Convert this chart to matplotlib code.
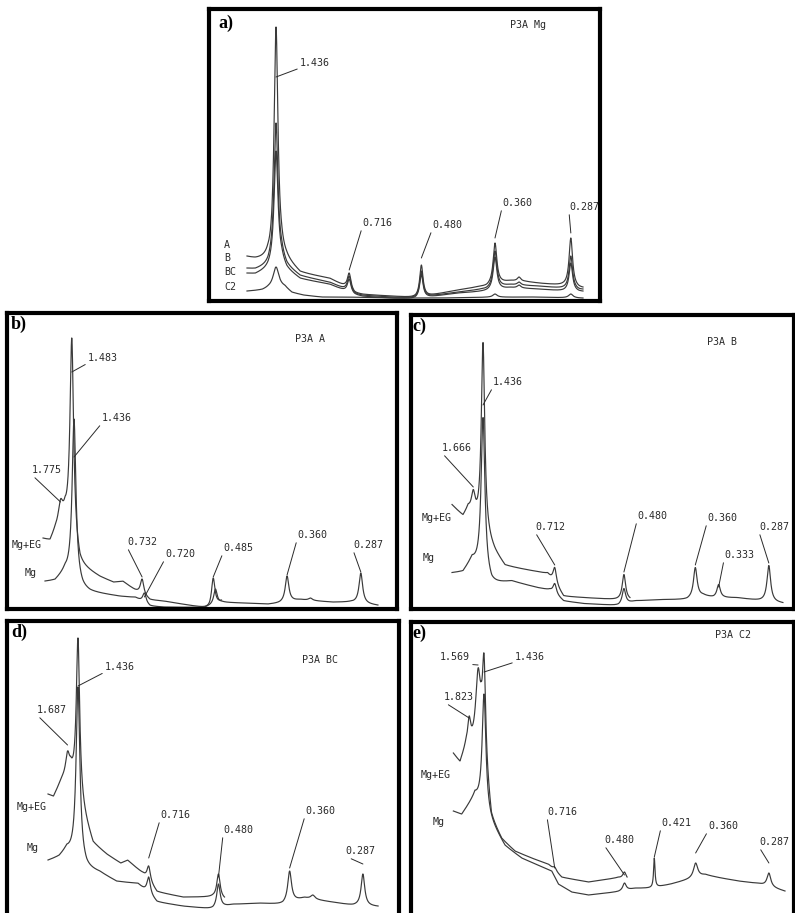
import numpy as np
import matplotlib.pyplot as plt

CU_KA = 0.15406  # X-ray wavelength (nm), Cu K-alpha

INK = "#2a2a2a"
TRACE = "#3a3a3a"
MONO = "DejaVu Sans Mono"
W, H = 795, 913

# Each trace: intensity readings at a few 2-theta positions away from the
# reflections, plus the apex height of every labelled reflection (by d, nm).

# ---------------------------------------------------------------- a) P3A Mg
a_scan = (3.69, 32.17)
a_peak_d = [1.436, 0.716, 0.480, 0.360, 0.333, 0.287]
a_peak_fwhm = [0.40, 0.36, 0.34, 0.38, 0.36, 0.36]
a_read_2t = [3.69, 4.4, 5.47, 5.79, 6.63, 7.06, 8.2, 10.7, 12.0, 12.8, 13.5, 16.0, 18.0, 19.0,
             21.5, 23.4, 24.0, 25.3, 26.0, 27.3, 28.5, 30.5, 31.8, 32.17]

a_A_read = [45, 44, 58, 90, 77, 50, 30, 23, 18, 10, 7, 5, 7, 8, 11, 15, 17, 22, 21, 20, 18, 19, 16, 14]
a_A_top = [274, 28, 36, 58, 24, 63]

a_B_read = [33, 33, 45, 70, 62, 40, 26, 19, 15, 9, 6, 4, 6, 7, 9, 12, 14, 18, 17, 16, 15, 15, 13, 12]
a_B_top = [178, 25, 30, 50, 19, 45]

a_BC_read = [28, 28, 40, 60, 55, 36, 23, 17, 13, 8, 5, 3, 5, 6, 8, 10, 12, 15, 14, 13, 12, 12, 11, 10]
a_BC_top = [150, 22, 27, 44, 16, 38]

a_C2_read_2t = [3.69, 5.0, 5.5, 6.9, 7.5, 8.5, 10.0, 12.0, 16.0, 20.0, 24.0, 28.0, 32.17]
a_C2_read = [10, 12, 16, 16, 9, 6, 4, 4, 3, 3, 4, 4, 3]
a_C2_peak_d = [1.436, 0.360, 0.287]
a_C2_top = [34, 7, 7]
a_C2_fwhm = [0.6, 0.45, 0.45]

# ---------------------------------------------------------------- b) P3A A
b_EG_scan = (3.45, 19.0)
b_EG_read_2t = [3.45, 4.06, 4.5, 5.37, 6.67, 7.54, 8.41, 9.6, 10.4, 11.46, 12.77, 14.0, 17.98, 19.0]
b_EG_read = [71, 70, 84, 113, 56, 40, 33, 27, 28, 20, 10, 8, 8, 9]
b_EG_peak_d = [1.775, 1.483, 0.732, 0.485]
b_EG_top = [110, 271, 30, 31]
b_EG_fwhm = [0.45, 0.38, 0.36, 0.36]

b_Mg_scan = (3.62, 32.63)
b_Mg_read_2t = [3.62, 4.5, 5.37, 6.9, 7.54, 10.16, 11.5, 12.77, 14.0, 17.5, 19.04, 21.0, 23.0,
                24.09, 25.84, 28.71, 30.19, 32.63]
b_Mg_read = [28, 30, 46, 30, 20, 13, 12, 4, 2, 2, 8, 6, 5, 8, 10, 7, 8, 4]
b_Mg_peak_d = [1.436, 0.720, 0.480, 0.360, 0.333, 0.287]
b_Mg_top = [190, 16, 20, 33, 11, 36]
b_Mg_fwhm = [0.40, 0.36, 0.36, 0.38, 0.40, 0.38]

# ---------------------------------------------------------------- c) P3A B
c_EG_scan = (3.44, 19.0)
c_EG_read_2t = [3.44, 4.40, 4.85, 7.2, 8.07, 10.43, 11.8, 13.2, 15.0, 18.0, 19.0]
c_EG_read = [104, 94, 105, 61, 44, 38, 36, 13, 11, 12, 11]
c_EG_peak_d = [1.666, 1.436, 0.712, 0.480]
c_EG_top = [119, 266, 41, 34]
c_EG_fwhm = [0.40, 0.36, 0.36, 0.36]

c_Mg_scan = (3.44, 32.37)
c_Mg_read_2t = [3.44, 4.4, 5.19, 6.91, 8.66, 10.96, 12.0, 13.2, 15.0, 18.0, 19.5, 21.6, 24.0,
                25.4, 26.3, 28.4, 30.4, 32.37]
c_Mg_read = [36, 38, 54, 34, 28, 21, 20, 8, 5, 5, 8, 9, 11, 15, 13, 11, 10, 6]
c_Mg_peak_d = [1.436, 0.712, 0.480, 0.360, 0.333, 0.287]
c_Mg_top = [191, 25, 20, 41, 24, 43]
c_Mg_fwhm = [0.40, 0.36, 0.36, 0.38, 0.36, 0.38]

# ---------------------------------------------------------------- d) P3A BC
d_EG_scan = (3.52, 19.0)
d_EG_read_2t = [3.52, 4.0, 4.7, 5.51, 6.94, 7.47, 8.69, 9.9, 10.5, 11.85, 13.08, 15.36, 17.99, 19.0]
d_EG_read = [123, 121, 140, 161, 99, 76, 63, 54, 57, 45, 26, 20, 23, 20]
d_EG_peak_d = [1.687, 1.436, 0.716, 0.480]
d_EG_top = [166, 279, 51, 43]
d_EG_fwhm = [0.40, 0.36, 0.36, 0.36]

d_Mg_scan = (3.52, 32.47)
d_Mg_read_2t = [3.52, 4.5, 5.16, 6.91, 8.08, 9.54, 11.4, 13.08, 15.36, 18.0, 19.75, 22.0, 24.13,
                26.0, 28.5, 30.27, 32.47]
d_Mg_read = [57, 62, 73, 59, 46, 36, 34, 16, 11, 11, 13, 14, 16, 20, 15, 13, 11]
d_Mg_peak_d = [1.436, 0.716, 0.480, 0.360, 0.333, 0.287]
d_Mg_top = [230, 40, 33, 46, 22, 43]
d_Mg_fwhm = [0.40, 0.36, 0.36, 0.40, 0.45, 0.38]

# ---------------------------------------------------------------- e) P3A C2
e_EG_scan = (3.46, 18.7)
e_EG_read_2t = [3.46, 4.04, 4.55, 5.2, 5.9, 6.8, 7.7, 8.87, 10.33, 11.79, 12.97, 15.30, 17.93, 18.7]
e_EG_read = [164, 156, 178, 194, 236, 105, 79, 66, 59, 53, 40, 35, 40, 40]
e_EG_peak_d = [1.823, 1.569, 1.436, 0.716, 0.480]
e_EG_top = [201, 249, 263, 50, 45]
e_EG_fwhm = [0.32, 0.50, 0.34, 0.36, 0.36]

e_Mg_scan = (3.46, 32.55)
e_Mg_read_2t = [3.46, 4.19, 5.36, 7.99, 9.46, 12.09, 12.67, 13.84, 15.30, 17.93, 19.40, 20.86,
                22.5, 24.07, 25.54, 26.99, 28.5, 30.21, 32.55]
e_Mg_read = [106, 103, 127, 72, 59, 46, 33, 25, 22, 26, 29, 32, 33, 39, 43, 39, 36, 34, 26]
e_Mg_peak_d = [1.436, 0.480, 0.421, 0.360, 0.287]
e_Mg_top = [223, 34, 59, 54, 44]
e_Mg_fwhm = [0.40, 0.36, 0.15, 0.45, 0.40]


def two_theta(d_nm):
    """Bragg angle 2-theta (degrees) for a d-spacing in nm."""
    d = np.asarray(d_nm, dtype=float)
    return 2.0 * np.degrees(np.arcsin(CU_KA / (2.0 * d)))


def xrd_trace(scan, read_2t, read_int, peak_d, peak_top, peak_fwhm):
    """Piecewise-linear background plus Lorentzian reflections.

    The background is chosen so that the trace passes through the intensity
    readings, and the reflection amplitudes so that each apex reaches its top.
    """
    pos = two_theta(peak_d)
    hw = np.asarray(peak_fwhm, dtype=float) / 2.0
    xk = np.asarray(read_2t, dtype=float)
    rk = np.asarray(read_int, dtype=float)
    top = np.asarray(peak_top, dtype=float)

    def shape(x):
        x = np.atleast_1d(np.asarray(x, dtype=float))
        return 1.0 / (1.0 + ((x[:, None] - pos[None, :]) / hw[None, :]) ** 2)

    eye = np.eye(len(xk))
    wp = np.stack([np.interp(pos, xk, eye[k]) for k in range(len(xk))], axis=1)
    lk = shape(xk)
    amp = np.linalg.solve(shape(pos) - wp @ lk, top - wp @ rk)
    amp = np.clip(amp, 0.0, None)
    bg_k = rk - lk @ amp

    inside = pos[(pos > scan[0]) & (pos < scan[1])]
    grid = np.union1d(np.linspace(scan[0], scan[1], 3000), inside)
    return grid, np.interp(grid, xk, bg_k) + shape(grid) @ amp


fig = plt.figure(figsize=(W / 100, H / 100), dpi=100)
fig.patch.set_facecolor("white")


def panel(box, xlim):
    left, top, right, bottom = box
    ax = fig.add_axes([left / W, 1 - bottom / H, (right - left) / W, (bottom - top) / H])
    ax.set_xlim(*xlim)
    ax.set_ylim(0, bottom - top)
    ax.set_xticks([])
    ax.set_yticks([])
    for sp in ax.spines.values():
        sp.set_linewidth(3.0)
        sp.set_color("black")
    return ax


def draw(ax, x, y):
    ax.plot(x, y, color=TRACE, lw=0.85)


def note(text, px, py, size=7.2):
    fig.text(px / W, 1 - py / H, text, ha="left", va="center", fontsize=size,
             family=MONO, color=INK)


def letter(text, px, py):
    fig.text(px / W, 1 - py / H, text, ha="left", va="center", fontsize=13,
             fontweight="bold", family="Liberation Serif", color="black")


def peak_label(ax, text, d, tx, ty, target_py):
    ax.annotate(text, xy=(two_theta(d), H - target_py), xycoords=("data", "figure pixels"),
                xytext=(tx, H - ty), textcoords="figure pixels", ha="left", va="center",
                fontsize=7.2, family=MONO, color=INK,
                arrowprops=dict(arrowstyle="-", lw=0.7, color=INK, shrinkA=0, shrinkB=0,
                                relpos=(0.0, 0.0)))


# ---------------- a)
ax = panel((209, 9, 600, 301), (0.47, 33.61))
for read, top in [(a_A_read, a_A_top), (a_B_read, a_B_top), (a_BC_read, a_BC_top)]:
    draw(ax, *xrd_trace(a_scan, a_read_2t, read, a_peak_d, top, a_peak_fwhm))
draw(ax, *xrd_trace(a_scan, a_C2_read_2t, a_C2_read, a_C2_peak_d, a_C2_top, a_C2_fwhm))
letter("a)", 218, 23)
note("P3A Mg", 510, 25)
for txt, py in [("A", 245), ("B", 258), ("BC", 272), ("C2", 287)]:
    note(txt, 224, py)
for txt, d, tx, ty, tgt in [("1.436", 1.436, 300, 63, 77), ("0.716", 0.716, 362, 223, 270),
                            ("0.480", 0.480, 432, 225, 258), ("0.360", 0.360, 502, 203, 238),
                            ("0.287", 0.287, 569, 207, 233)]:
    peak_label(ax, txt, d, tx, ty, tgt)

# ---------------- b)
ax = panel((7, 313, 397, 609), (0.31, 34.29))
draw(ax, *xrd_trace(b_EG_scan, b_EG_read_2t, b_EG_read, b_EG_peak_d, b_EG_top, b_EG_fwhm))
draw(ax, *xrd_trace(b_Mg_scan, b_Mg_read_2t, b_Mg_read, b_Mg_peak_d, b_Mg_top, b_Mg_fwhm))
letter("b)", 11, 324)
note("P3A A", 295, 339)
note("Mg+EG", 12, 545)
note("Mg", 25, 573)
for txt, d, tx, ty, tgt in [("1.483", 1.483, 88, 358, 372), ("1.436", 1.436, 102, 418, 457),
                            ("1.775", 1.775, 32, 470, 502), ("0.732", 0.732, 127, 542, 577),
                            ("0.720", 0.720, 165, 554, 597), ("0.485", 0.485, 223, 548, 577),
                            ("0.360", 0.360, 297, 535, 575), ("0.287", 0.287, 353, 545, 572)]:
    peak_label(ax, txt, d, tx, ty, tgt)

# ---------------- c)
ax = panel((410.5, 315, 794, 608.5), (-0.19, 33.34))
draw(ax, *xrd_trace(c_EG_scan, c_EG_read_2t, c_EG_read, c_EG_peak_d, c_EG_top, c_EG_fwhm))
draw(ax, *xrd_trace(c_Mg_scan, c_Mg_read_2t, c_Mg_read, c_Mg_peak_d, c_Mg_top, c_Mg_fwhm))
letter("c)", 412, 326)
note("P3A B", 707, 342)
note("Mg+EG", 422, 518)
note("Mg", 423, 558)
for txt, d, tx, ty, tgt in [("1.436", 1.436, 493, 382, 405), ("1.666", 1.666, 442, 448, 487),
                            ("0.712", 0.712, 535, 527, 565), ("0.480", 0.480, 637, 516, 572),
                            ("0.360", 0.360, 707, 518, 565), ("0.333", 0.333, 724, 555, 587),
                            ("0.287", 0.287, 759, 527, 563)]:
    peak_label(ax, txt, d, tx, ty, tgt)

# ---------------- d)
ax = panel((6.5, 621, 398.5, 917), (-0.12, 34.26))
draw(ax, *xrd_trace(d_EG_scan, d_EG_read_2t, d_EG_read, d_EG_peak_d, d_EG_top, d_EG_fwhm))
draw(ax, *xrd_trace(d_Mg_scan, d_Mg_read_2t, d_Mg_read, d_Mg_peak_d, d_Mg_top, d_Mg_fwhm))
letter("d)", 11, 632)
note("P3A BC", 302, 660)
note("Mg+EG", 17, 807)
note("Mg", 27, 848)
for txt, d, tx, ty, tgt in [("1.436", 1.436, 105, 667, 686), ("1.687", 1.687, 37, 710, 745),
                            ("0.716", 0.716, 160, 815, 858), ("0.480", 0.480, 223, 830, 877),
                            ("0.360", 0.360, 305, 811, 868), ("0.287", 0.287, 345, 851, 864)]:
    peak_label(ax, txt, d, tx, ty, tgt)

# ---------------- e)
ax = panel((410.5, 622, 794, 917), (-0.30, 33.34))
draw(ax, *xrd_trace(e_EG_scan, e_EG_read_2t, e_EG_read, e_EG_peak_d, e_EG_top, e_EG_fwhm))
draw(ax, *xrd_trace(e_Mg_scan, e_Mg_read_2t, e_Mg_read, e_Mg_peak_d, e_Mg_top, e_Mg_fwhm))
letter("e)", 412, 633)
note("P3A C2", 715, 635)
note("Mg+EG", 421, 775)
note("Mg", 433, 822)
for txt, d, tx, ty, tgt in [("1.569", 1.569, 440, 657, 665), ("1.436", 1.436, 515, 657, 672),
                            ("1.823", 1.823, 444, 697, 718), ("0.716", 0.716, 547, 812, 868),
                            ("0.480", 0.480, 604, 840, 875), ("0.421", 0.421, 661, 823, 857),
                            ("0.360", 0.360, 708, 826, 853), ("0.287", 0.287, 759, 842, 863)]:
    peak_label(ax, txt, d, tx, ty, tgt)

fig.savefig("out.png", dpi=100, facecolor="white")
